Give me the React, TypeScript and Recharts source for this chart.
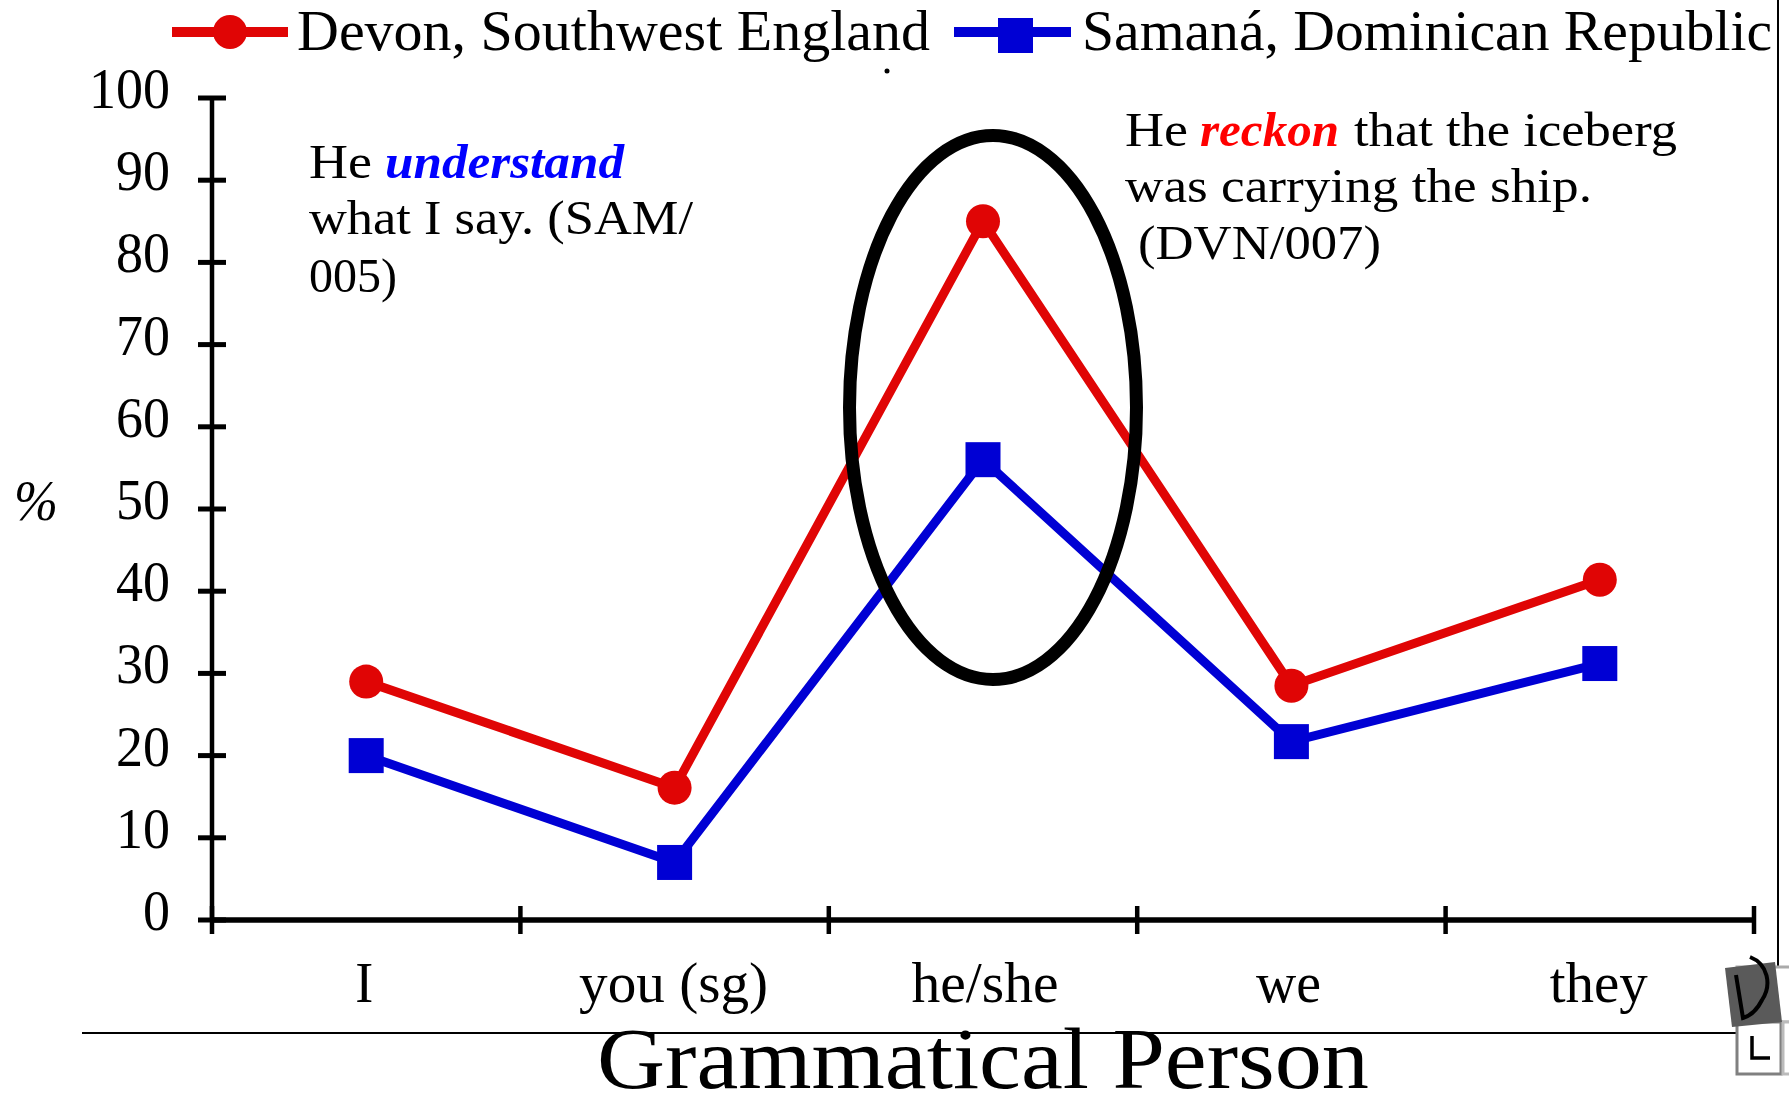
import { LineChart, Line, XAxis, YAxis, Legend, ReferenceDot } from "recharts";

const categories = ["I", "you (sg)", "he/she", "we", "they"];
const devon = [29, 16.1, 85, 28.5, 41.4];
const samana = [20, 7, 56, 21.7, 31.2];
const yTicks = [0, 10, 20, 30, 40, 50, 60, 70, 80, 90, 100];
const tickLabelWidths: Record<string, number> = {
  I: 18,
  "you (sg)": 189,
  "he/she": 147,
  we: 65,
  they: 98,
};
const tickLabelNudges: Record<string, number> = {
  I: -2,
  "you (sg)": -1,
  "he/she": 2,
  we: -3,
  they: -1,
};

const data = categories.map((person, i) => ({
  person,
  devon: devon[i],
  samana: samana[i],
}));

const WIDTH = 1789;
const HEIGHT = 1094;
const LEGEND_HEIGHT = 75;
const AXIS_SIZE = 1;
const PLOT_LEFT = 212;
const PLOT_RIGHT = 1754;
const PLOT_TOP = 98;
const PLOT_BOTTOM = 920;
const BAND = (PLOT_RIGHT - PLOT_LEFT) / categories.length;

const FONT = "'Liberation Serif', serif";
const RED = "#e00505";
const BLUE = "#0000d4";

function YTick({ y, payload }: any) {
  const label = String(payload.value);
  return (
    <g>
      <line x1={PLOT_LEFT - 14} x2={PLOT_LEFT + 14} y1={y} y2={y} stroke="#000" strokeWidth={5} />
      <text
        x={170}
        y={y + 10}
        textAnchor="end"
        fontFamily={FONT}
        fontSize={57}
        textLength={label.length * 27}
        lengthAdjust="spacingAndGlyphs"
      >
        {label}
      </text>
    </g>
  );
}

function XTick({ x, payload, index }: any) {
  const left = x - BAND / 2;
  const right = x + BAND / 2;
  return (
    <g>
      <line x1={left} x2={left} y1={PLOT_BOTTOM - 14} y2={PLOT_BOTTOM + 14} stroke="#000" strokeWidth={4.5} />
      {index === categories.length - 1 && (
        <line x1={right} x2={right} y1={PLOT_BOTTOM - 14} y2={PLOT_BOTTOM + 14} stroke="#000" strokeWidth={4.5} />
      )}
      <text
        x={x + tickLabelNudges[payload.value]}
        y={1002}
        textAnchor="middle"
        fontFamily={FONT}
        fontSize={57}
        textLength={tickLabelWidths[payload.value]}
        lengthAdjust="spacingAndGlyphs"
      >
        {payload.value}
      </text>
    </g>
  );
}

function SquareDot({ cx, cy }: any) {
  return <rect x={cx - 17.5} y={cy - 17.5} width={35} height={35} fill={BLUE} />;
}

function LegendRow({ payload }: any) {
  if (!payload || payload.length < 2) return null;
  const [first, second] = payload;
  return (
    <svg width={WIDTH} height={LEGEND_HEIGHT} style={{ display: "block" }}>
      <line x1={172} x2={288} y1={32} y2={32} stroke={first.color} strokeWidth={10} />
      <circle cx={230} cy={32} r={17} fill={first.color} />
      <text
        x={297}
        y={50}
        fontFamily={FONT}
        fontSize={56}
        textLength={633}
        lengthAdjust="spacingAndGlyphs"
      >
        {first.value}
      </text>
      <line x1={954} x2={1071} y1={32} y2={32} stroke={second.color} strokeWidth={10} />
      <rect x={998} y={18} width={35} height={35} fill={second.color} />
      <text
        x={1082}
        y={50}
        fontFamily={FONT}
        fontSize={56}
        textLength={690}
        lengthAdjust="spacingAndGlyphs"
      >
        {second.value}
      </text>
    </svg>
  );
}

function Ring({ cx, cy }: any) {
  return <ellipse cx={cx + 10} cy={cy} rx={143.5} ry={272} fill="none" stroke="#000" strokeWidth={13} />;
}

function Note({ x, y, w, fill = "#000", italic = false, children }: any) {
  return (
    <text
      x={x}
      y={y}
      fontFamily={FONT}
      fontSize={49}
      fill={fill}
      fontStyle={italic ? "italic" : "normal"}
      fontWeight={italic ? 700 : 400}
      textLength={w}
      lengthAdjust="spacingAndGlyphs"
    >
      {children}
    </text>
  );
}

export default function App() {
  return (
    <div
      style={{
        position: "absolute",
        left: 0,
        top: 0,
        width: WIDTH,
        height: HEIGHT,
        background: "#fff",
        overflow: "hidden",
      }}
    >
      <LineChart
        width={WIDTH}
        height={HEIGHT}
        data={data}
        margin={{
          left: PLOT_LEFT - AXIS_SIZE,
          right: WIDTH - PLOT_RIGHT,
          top: PLOT_TOP - LEGEND_HEIGHT,
          bottom: HEIGHT - PLOT_BOTTOM - AXIS_SIZE,
        }}
      >
        <XAxis
          dataKey="person"
          scale="band"
          height={AXIS_SIZE}
          axisLine={{ stroke: "#000", strokeWidth: 5.5 }}
          tickLine={false}
          tick={<XTick />}
          interval={0}
        />
        <YAxis
          domain={[0, 100]}
          ticks={yTicks}
          width={AXIS_SIZE}
          axisLine={{ stroke: "#000", strokeWidth: 4.5 }}
          tickLine={false}
          tick={<YTick />}
          interval={0}
        />
        <Legend
          verticalAlign="top"
          height={LEGEND_HEIGHT}
          content={<LegendRow />}
          wrapperStyle={{ left: 0, top: 0, width: WIDTH }}
        />
        <Line
          dataKey="devon"
          name="Devon, Southwest England"
          stroke={RED}
          strokeWidth={9}
          dot={{ r: 17, fill: RED, stroke: RED, strokeWidth: 0 }}
          isAnimationActive={false}
        />
        <Line
          dataKey="samana"
          name="Samaná, Dominican Republic"
          stroke={BLUE}
          strokeWidth={9}
          dot={<SquareDot />}
          isAnimationActive={false}
        />
        <ReferenceDot x="he/she" y={62.35} shape={<Ring />} ifOverflow="visible" />

        <text
          x={14}
          y={520}
          fontFamily={FONT}
          fontSize={57}
          fontStyle="italic"
          textLength={44}
          lengthAdjust="spacingAndGlyphs"
        >
          %
        </text>

        <Note x={309} y={178} w={63}>He</Note>
        <Note x={385} y={178} w={239} fill="#0000ff" italic>understand</Note>
        <Note x={309} y={234} w={384}>what I say. (SAM/</Note>
        <Note x={309} y={292} w={88}>005)</Note>

        <Note x={1125} y={146} w={63}>He</Note>
        <Note x={1200} y={146} w={139} fill="#ff0000" italic>reckon</Note>
        <Note x={1354} y={146} w={323}>that the iceberg</Note>
        <Note x={1125} y={202} w={467}>was carrying the ship.</Note>
        <Note x={1138} y={259} w={243}>(DVN/007)</Note>

        <text
          x={983}
          y={1088}
          textAnchor="middle"
          fontFamily={FONT}
          fontSize={86}
          textLength={772}
          lengthAdjust="spacingAndGlyphs"
        >
          Grammatical Person
        </text>

        {/* page furniture from the scan */}
        <line x1={82} x2={1778} y1={1033} y2={1033} stroke="#000" strokeWidth={2} />
        <line x1={1778} x2={1778} y1={0} y2={1016} stroke="#000" strokeWidth={2} />
        <circle cx={887} cy={71} r={2.5} fill="#000" />
        <rect x={1737} y={967} width={60} height={55} fill="#fff" stroke="#aaa" strokeWidth={3} />
        <rect x={1737} y={1022} width={44} height={52} fill="#fff" stroke="#808080" strokeWidth={3} />
        <rect x={1783} y={1022} width={10} height={52} fill="#fff" stroke="#bbb" strokeWidth={3} />
        <path d="M1752 1036 V1058 H1770" fill="none" stroke="#000" strokeWidth={3.5} />
        <polygon points="1725,968 1775,962 1782,1022 1732,1027" fill="#5a5a5a" />
        <path
          d="M1750 957 C1768 964 1772 985 1762 1000 C1757 1010 1750 1016 1743 1018 L1736 975"
          fill="none"
          stroke="#000"
          strokeWidth={4}
        />
      </LineChart>
    </div>
  );
}
